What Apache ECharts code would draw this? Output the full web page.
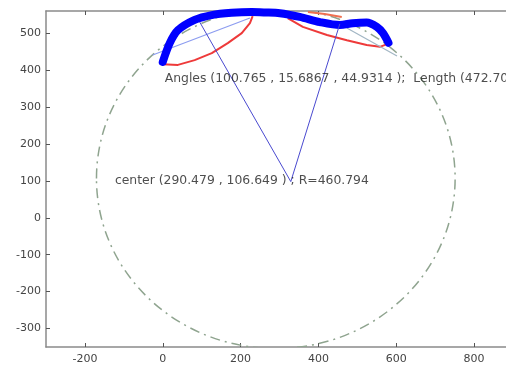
<!DOCTYPE html>
<html>
<head>
<meta charset="utf-8">
<script src="https://cdn.jsdelivr.net/npm/echarts@6/dist/echarts.min.js"></script>
<style>
  html, body { margin: 0; padding: 0; background: #fff; }
  #chart { width: 506px; height: 367px; }
</style>
</head>
<body>
<div id="chart"></div>
<script>
// tick labels
const xTicks = [-200, 0, 200, 400, 600, 800];
const yTicks = [-300, -200, -100, 0, 100, 200, 300, 400, 500];

// fitted circle
const circleCenter = [290.479, 106.649];
const circleR = 460.794;

// thick blue curve
const curveX = [0, 18, 39, 82, 126, 177, 229, 262, 301, 352, 404, 455, 488, 524, 550, 566, 580];
const curveY = [422, 473, 508, 536, 549, 555, 557, 556, 554, 544, 530, 522, 527, 529, 517, 500, 474];

// red arcs
const red1X = [0, 39, 82, 126, 167, 203, 224, 231];
const red1Y = [416, 414, 427, 446, 473, 500, 527, 546];
const red2X = [321, 360, 422, 473, 524, 558, 578];
const red2Y = [541, 517, 495, 481, 468, 463, 471];
const red3X = [373, 416, 460];
const red3Y = [557, 552, 544];

// straight segments
const spokeA = [[95, 530], [329, 98]];
const spokeB = [[455, 525], [329, 98]];
const chord1 = [[-26, 441], [224, 541]];
const chord2 = [[473, 514], [602, 438]];

// text annotations
const notes = [
  [-123, 99, 'center (290.479 , 106.649 ) ; R=460.794'],
  [5, 376, 'Angles (100.765 , 15.6867 , 44.9314 );  Length (472.709 )']
];

const pairs = (xs, ys) => xs.map((x, i) => [x, ys[i]]);

const axisGray = '#8a8a8a';
const labelStyle = { color: '#444', fontSize: 11, fontFamily: 'DejaVu Sans, sans-serif' };

const chart = echarts.init(document.getElementById('chart'));

function segment(data, color, width) {
  return {
    type: 'line', data: data, symbol: 'none', silent: true,
    lineStyle: { color: color, width: width }, z: 3
  };
}

chart.setOption({
  animation: false,
  backgroundColor: '#fff',
  grid: { left: 46, right: 0, top: 11, bottom: 20 },
  xAxis: [{
    type: 'value', min: -300, max: 882,
    axisLine: { show: true, onZero: false, lineStyle: { color: axisGray, width: 1.5 } },
    axisTick: { show: true, inside: true, length: 4, customValues: xTicks, lineStyle: { color: '#555' } },
    axisLabel: Object.assign({ customValues: xTicks, margin: 7 }, labelStyle),
    splitLine: { show: false }
  }, {
    type: 'value', min: -300, max: 882, position: 'top',
    axisLine: { show: true, onZero: false, lineStyle: { color: axisGray, width: 1.5 } },
    axisTick: { show: true, inside: true, length: 4, customValues: xTicks, lineStyle: { color: '#555' } },
    axisLabel: { show: false },
    splitLine: { show: false }
  }],
  yAxis: {
    type: 'value', min: -350, max: 560,
    axisLine: { show: true, onZero: false, lineStyle: { color: axisGray, width: 1.5 } },
    axisTick: { show: true, inside: true, length: 4, customValues: yTicks, lineStyle: { color: '#555' } },
    axisLabel: Object.assign({ customValues: yTicks, margin: 5 }, labelStyle),
    splitLine: { show: false }
  },
  series: [
    {
      type: 'custom', clip: true, silent: true, z: 1,
      data: [[circleCenter[0], circleCenter[1], circleR]],
      renderItem: function (params, api) {
        const c = api.coord([api.value(0), api.value(1)]);
        const s = api.size([api.value(2), api.value(2)]);
        return {
          type: 'ellipse',
          shape: { cx: c[0], cy: c[1], rx: s[0], ry: s[1] },
          style: { fill: null, stroke: '#8fa48f', lineWidth: 1.5, lineDash: [10, 5, 2, 5] }
        };
      }
    },
    segment(pairs(red1X, red1Y), '#ee3a3a', 2),
    segment(pairs(red2X, red2Y), '#ee3a3a', 2),
    segment(pairs(red3X, red3Y), '#f07050', 2),
    segment(chord1, '#8c9cf0', 1.2),
    segment(chord2, '#a2b6c4', 1.2),
    {
      type: 'line', data: pairs(curveX, curveY), symbol: 'none', smooth: 0.3, silent: true,
      lineStyle: { color: '#0000ff', width: 8, cap: 'round', join: 'round' }, z: 4
    },
    Object.assign(segment(spokeA, '#4a4ad0', 1), { z: 5 }),
    Object.assign(segment(spokeB, '#4a4ad0', 1), { z: 5 }),
    {
      type: 'scatter', symbolSize: 0, silent: true, z: 6,
      data: notes.map(n => ({ value: [n[0], n[1]], name: n[2] })),
      label: {
        show: true, position: 'right', distance: 0,
        formatter: p => p.name,
        color: '#222', fontSize: 12.4, fontFamily: 'DejaVu Sans, sans-serif'
      }
    }
  ]
});
</script>
</body>
</html>
